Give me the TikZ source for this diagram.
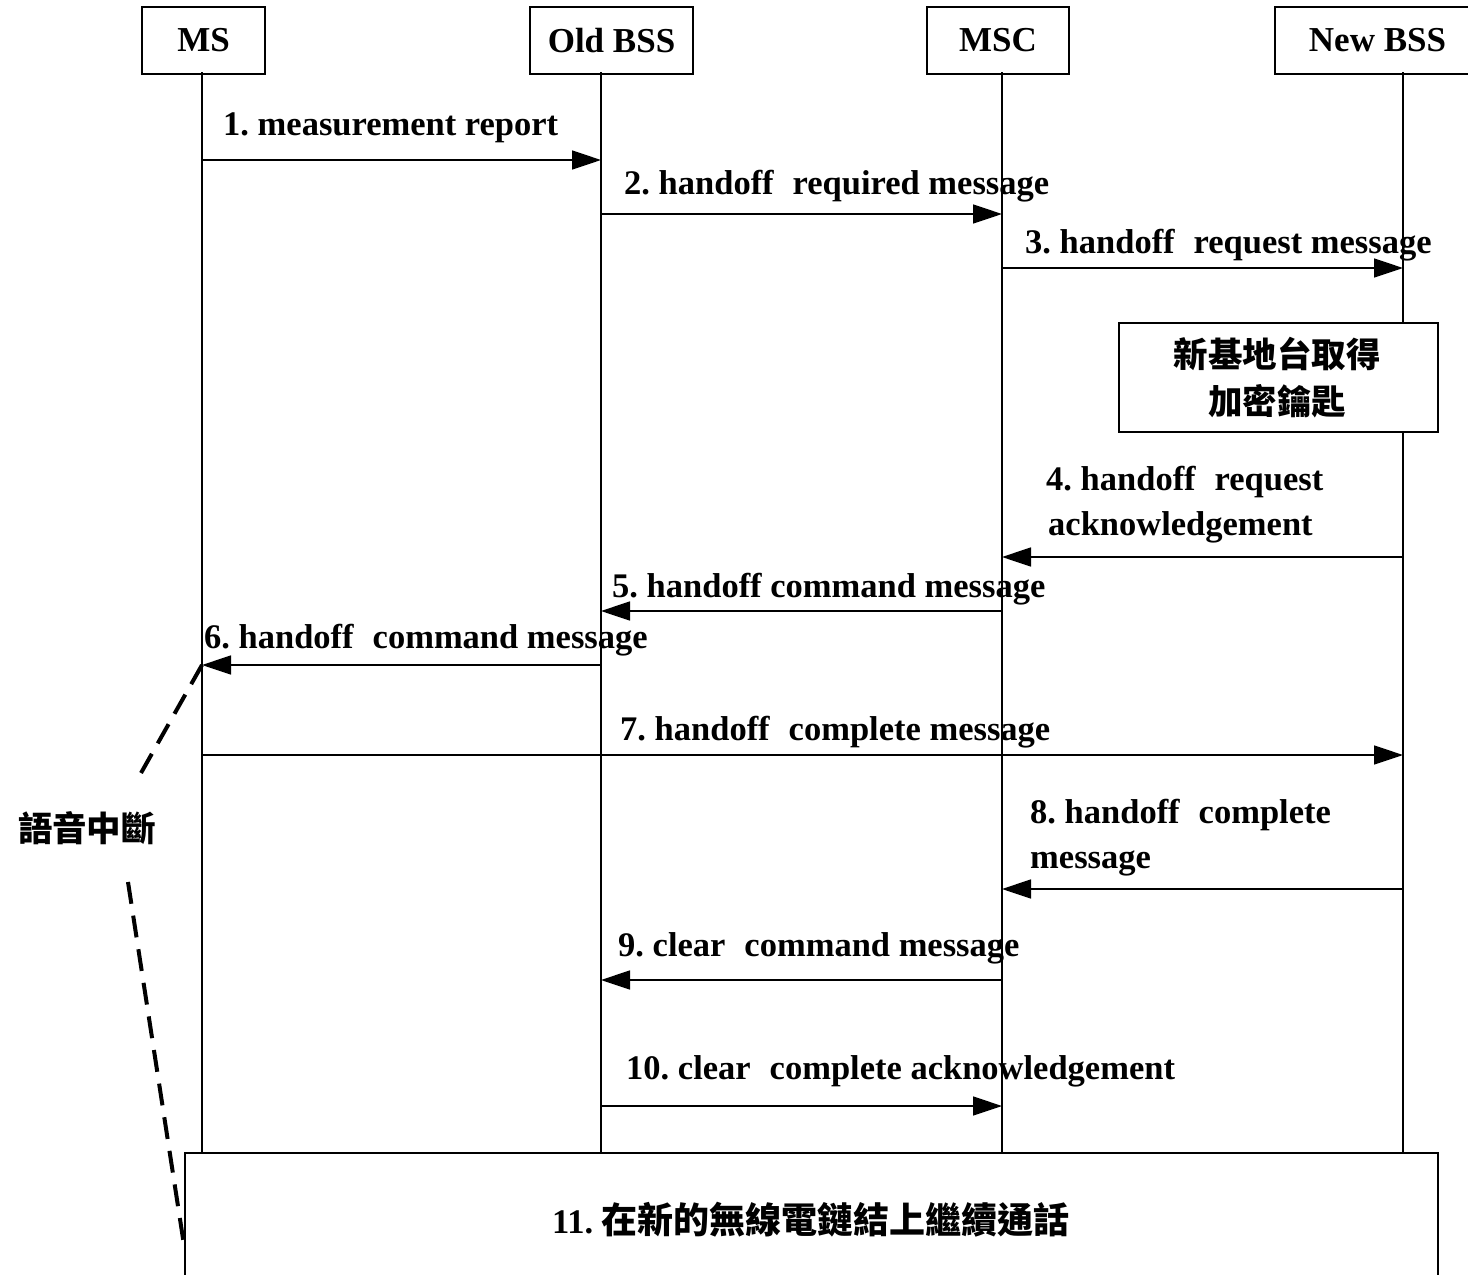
\documentclass[tikz,border=0pt]{standalone}
\usepackage{fontspec}
\setmainfont{Liberation Serif}
\newfontfamily\cjk{Noto Sans CJK TC}
\usetikzlibrary{arrows.meta}
\frenchspacing

\begin{document}
\begin{tikzpicture}[x=1pt,y=-1pt,
  actor/.style={draw, line width=1.6pt, fill=white, minimum height=67pt, inner sep=0pt,
    anchor=north, font=\bfseries\fontsize{35}{38}\selectfont},
  life/.style={line width=1.6pt},
  msg/.style={line width=1.6pt, -{Triangle[length=29pt,width=19pt]}},
  lbl/.style={font=\bfseries\fontsize{34.5}{45}\selectfont, inner sep=0pt, anchor=base west, align=left},
  note/.style={draw, line width=1.6pt, fill=white, inner sep=0pt},
  cjktxt/.style={font=\cjk\bfseries\fontsize{34.5}{47}\selectfont, align=center, inner sep=0pt},
  cut/.style={line width=4pt, dash pattern=on 22pt off 12pt}
]
\clip (0,0) rectangle (1468,1275);
\fill[white] (0,0) rectangle (1468,1275);

% participants
\node[actor, minimum width=123pt] (ms)  at (203.5,6) {MS};
\node[actor, minimum width=163pt] (old) at (611.5,6) {Old BSS};
\node[actor, minimum width=142pt] (msc) at (998,6)   {MSC};
\node[actor, minimum width=205pt] (new) at (1377.5,6) {New BSS};

% lifeline ends
\coordinate (msT)  at (202,72);   \coordinate (msB)  at (202,1152);
\coordinate (oldT) at (601,72);   \coordinate (oldB) at (601,1152);
\coordinate (mscT) at (1002,72);  \coordinate (mscB) at (1002,1152);
\coordinate (newT) at (1403,72);  \coordinate (newB) at (1403,1152);

\draw[life] (msT) -- (msB);
\draw[life] (oldT) -- (oldB);
\draw[life] (mscT) -- (mscB);
\draw[life] (newT) -- (newB);

% key acquisition at the new base station
\node[note, minimum width=319pt, minimum height=109pt, anchor=north west] (key) at (1118,322) {};
\node[cjktxt] (keytxt) at (1277,378) {新基地台取得\\加密鑰匙};

% messages
\draw[msg] (msT |- 0,160)  -- (oldT |- 0,160);
\node[lbl] (l1) at (223,135) {1. measurement report};

\draw[msg] (oldT |- 0,214) -- (mscT |- 0,214);
\node[lbl] (l2) at (624,194) {2. handoff\hspace{0.3em} required message};

\draw[msg] (mscT |- 0,268) -- (newT |- 0,268);
\node[lbl] (l3) at (1025,253) {3. handoff\hspace{0.3em} request message};

\draw[msg] (newT |- 0,557) -- (mscT |- 0,557);
\node[lbl] (l4) at (1046,535) {4. handoff\hspace{0.3em} request\\\hspace{2pt}acknowledgement};

\draw[msg] (mscT |- 0,611) -- (oldT |- 0,611);
\node[lbl] (l5) at (612,597) {5. handoff command message};

\draw[msg] (oldT |- 0,665) -- (msT |- 0,665);
\node[lbl] (l6) at (204,648) {6. handoff\hspace{0.3em} command message};

\draw[msg] (msT |- 0,755) -- (newT |- 0,755);
\node[lbl] (l7) at (620,740) {7. handoff\hspace{0.3em} complete message};

\draw[msg] (newT |- 0,889) -- (mscT |- 0,889);
\node[lbl] (l8) at (1030,868) {8. handoff\hspace{0.3em} complete\\message};

\draw[msg] (mscT |- 0,980) -- (oldT |- 0,980);
\node[lbl] (l9) at (618,956) {9. clear\hspace{0.3em} command message};

\draw[msg] (oldT |- 0,1106) -- (mscT |- 0,1106);
\node[lbl] (l10) at (626,1079) {10. clear\hspace{0.3em} complete acknowledgement};

% resumed call on the new link
\node[note, minimum width=1253pt, minimum height=160pt, anchor=north west] (resume) at (184,1152) {};
\node[font=\bfseries\fontsize{34.5}{38}\selectfont, inner sep=0pt] (resumetxt) at (811,1220)
  {11. {\cjk\bfseries\fontsize{36}{38}\selectfont 在新的無線電鏈結上繼續通話}};

% speech interruption
\coordinate (cutA) at (202,665);
\coordinate (cutB) at (141,773);
\node[cjktxt] (gap) at (87,828) {語音中斷};
\coordinate (cutC) at (128,882);
\coordinate (cutD) at (184,1245);
\draw[cut] (cutA) -- (cutB);
\draw[cut] (cutC) -- (cutD);
\end{tikzpicture}
\end{document}
